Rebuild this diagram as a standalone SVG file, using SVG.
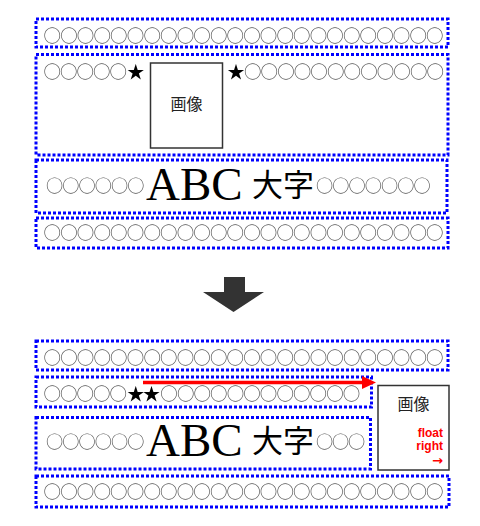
<svg xmlns="http://www.w3.org/2000/svg" width="480" height="526" viewBox="0 0 480 526">
<defs>
<filter id="gray" x="0" y="0" width="1" height="1"><feColorMatrix type="saturate" values="0"/></filter>
</defs>
<style>
.box{fill:none;stroke:#0000ff;stroke-width:3;stroke-dasharray:3 2}
.img{fill:#fff;stroke:#333;stroke-width:1.5}
.c{font-family:"Noto Sans CJK JP",sans-serif;font-size:17.5px;fill:#555;filter:url(#gray)}
.c2{font-family:"Noto Sans CJK JP",sans-serif;font-size:17.2px;fill:#555;filter:url(#gray)}
.star{fill:#000}
.abc{font-family:"Liberation Serif",serif;font-size:47px;fill:#000}
.big{font-family:"Noto Sans CJK JP",sans-serif;font-size:31px;fill:#000}
.lbl{font-family:"Noto Sans CJK JP",sans-serif;font-size:16px;fill:#222;text-anchor:middle}
.red{font-family:"Liberation Sans",sans-serif;font-size:12px;font-weight:bold;fill:#f00;text-anchor:end}
</style>
<rect width="480" height="526" fill="#fff"/>
<g id="before-row1">
<rect class="box" x="36" y="19" width="412" height="28"/>
<text class="c" x="43.6" y="42.3" textLength="400" lengthAdjust="spacing">○○○○○○○○○○○○○○○○○○○○○○○○</text>
</g>
<g id="before-row2">
<rect class="box" x="36" y="54.5" width="412" height="100.5"/>
<text class="c" x="43.6" y="77.6" textLength="83.3" lengthAdjust="spacing">○○○○○</text>
<text class="c star" x="127" y="77.6">★</text>
<text class="c star" x="227.2" y="77.6">★</text>
<text class="c" x="244" y="77.6" textLength="200" lengthAdjust="spacing">○○○○○○○○○○○○</text>
</g>
<g id="before-image">
<rect class="img" x="150.5" y="63" width="72" height="85"/>
<text class="lbl" x="186.5" y="110">画像</text>
</g>
<g id="before-row3">
<rect class="box" x="36" y="160" width="411" height="53"/>
<text class="c2" x="46" y="191.5" textLength="98.4" lengthAdjust="spacing">○○○○○○</text>
<text class="abc" x="146" y="200">ABC</text>
<text class="big" x="252" y="196">大字</text>
<text class="c2" x="316" y="191.5" textLength="114.8" lengthAdjust="spacing">○○○○○○○</text>
</g>
<g id="before-row4">
<rect class="box" x="36" y="218" width="412" height="30"/>
<text class="c" x="43.6" y="239.3" textLength="400" lengthAdjust="spacing">○○○○○○○○○○○○○○○○○○○○○○○○</text>
</g>
<g id="after-row1">
<rect class="box" x="36" y="341" width="412" height="29"/>
<text class="c" x="43.6" y="364.3" textLength="400" lengthAdjust="spacing">○○○○○○○○○○○○○○○○○○○○○○○○</text>
</g>
<g id="after-row2">
<rect class="box" x="36" y="377" width="335.5" height="30"/>
<text class="c" x="43.6" y="399.9" textLength="83.3" lengthAdjust="spacing">○○○○○</text>
<text class="c star" x="127" y="399.9" textLength="33.3" lengthAdjust="spacing">★★</text>
<text class="c" x="160.3" y="399.9" textLength="200" lengthAdjust="spacing">○○○○○○○○○○○○</text>
</g>
<g id="after-row3">
<rect class="box" x="36" y="417.5" width="334.5" height="51.5"/>
<text class="c2" x="46" y="448.2" textLength="98.4" lengthAdjust="spacing">○○○○○○</text>
<text class="abc" x="146" y="456">ABC</text>
<text class="big" x="252" y="452">大字</text>
<text class="c2" x="316" y="448.2" textLength="49.2" lengthAdjust="spacing">○○○</text>
</g>
<g id="after-image">
<rect class="img" x="378" y="385.5" width="71" height="84.5"/>
<text class="lbl" x="413.5" y="410">画像</text>
<text class="red" x="443" y="437">float</text>
<text class="red" x="443" y="450">right</text>
<text class="red" x="443" y="465" style="font-family:'DejaVu Sans',sans-serif;font-size:13px">→</text>
</g>
<g id="after-row4">
<rect class="box" x="36" y="476" width="413" height="31"/>
<text class="c" x="43.6" y="498.3" textLength="400" lengthAdjust="spacing">○○○○○○○○○○○○○○○○○○○○○○○○</text>
</g>
<g id="connectors">
<polygon points="224,277 245,277 245,292 264,292 233.5,312 203,292 224,292" fill="#333"/>
<line x1="143" y1="382.5" x2="364" y2="382.5" stroke="#f00" stroke-width="3.5"/>
<polygon points="362,376 376,382.5 362,389" fill="#f00"/>
</g>
</svg>
